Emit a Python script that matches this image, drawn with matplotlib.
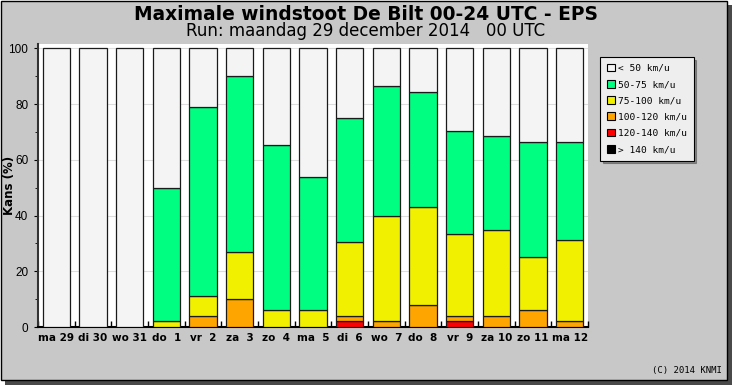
import numpy as np
import matplotlib
matplotlib.use('Agg')
import matplotlib.pyplot as plt
from matplotlib.patches import Rectangle

# -- data (percent of ensemble members per wind gust class)
days = ['ma 29', 'di 30', 'wo 31', 'do  1', 'vr  2', 'za  3', 'zo  4', 'ma  5',
        'di  6', 'wo  7', 'do  8', 'vr  9', 'za 10', 'zo 11', 'ma 12']
gt140 = [0, 0, 0, 0, 0, 0, 0, 0, 0, 0, 0, 0, 0, 0, 0]
p120_140 = [0, 0, 0, 0, 0, 0, 0, 0, 2, 0, 0, 2, 0, 0, 0]
p100_120 = [0, 0, 0, 0, 4, 10, 0, 0, 2, 2, 8, 2, 4, 6, 2]
p75_100 = [0, 0, 0, 2, 7, 17, 6, 6, 26.5, 38, 35, 29.3, 31, 19.3, 29.2]
p50_75 = [0, 0, 0, 48, 68, 63, 59.5, 48, 44.5, 46.4, 41.3, 37.2, 33.5, 41, 35.1]
lt50 = [100, 100, 100, 50, 21, 10, 34.5, 46, 25, 13.6, 15.7, 29.5, 31.5, 33.7, 33.7]

classes = ['> 140 km/u', '120-140 km/u', '100-120 km/u', '75-100 km/u', '50-75 km/u', '< 50 km/u']
series = [gt140, p120_140, p100_120, p75_100, p50_75, lt50]
colors = ['#000000', '#ff0000', '#ffa500', '#f0f000', '#00ff80', '#f4f4f4']

W, H = 732, 385
fig = plt.figure(figsize=(W / 100, H / 100), dpi=100)
fig.patch.set_facecolor('white')

#-frame with shadow
fig.add_artist(Rectangle((5 / W, 0), 727 / W, 380 / H, transform=fig.transFigure,
                         facecolor='#4a4a4a', edgecolor='none', zorder=-10))
fig.add_artist(Rectangle((0.5 / W, 5 / H), 726 / W, 379.5 / H, transform=fig.transFigure,
                         facecolor='#c8c8c8', edgecolor='black', lw=1, zorder=-9))

ax = fig.add_axes([38 / W, (H - 327) / H, 550 / W, 283 / H])
ax.set_facecolor('white')

x = np.arange(len(days))
bottom = np.zeros(len(days))
for vals, col in zip(series, colors):
    vals = np.array(vals, dtype=float)
    ax.bar(x, vals, width=0.74, bottom=bottom, color=col, edgecolor='#1a1a1a',
           linewidth=0.9, zorder=3)
    bottom += vals

ax.set_xlim(-0.5, len(days) - 0.5)
ax.set_ylim(0, 101.6)

ax.set_yticks(np.arange(0, 101, 20))
ax.set_yticks(np.arange(10, 100, 20), minor=True)
ax.grid(axis='y', color='#dddddd', lw=0.8, zorder=0)
ax.tick_params(axis='y', which='major', direction='out', length=3, pad=4)
ax.tick_params(axis='y', which='minor', direction='out', length=2)
for lab in ax.get_yticklabels():
    lab.set_family('Liberation Sans')
    lab.set_fontsize(8.5)

ax.set_xticks(x)
ax.set_xticklabels(days, fontweight='bold', fontsize=7.5)
ax.set_xticks(np.arange(-0.5, len(days), 1), minor=True)
ax.tick_params(axis='x', which='major', length=0, pad=4)
ax.tick_params(axis='x', which='minor', direction='in', length=4, width=1)

for s in ['top', 'right']:
    ax.spines[s].set_visible(False)
ax.spines['left'].set_color('#333333')
ax.spines['left'].set_linewidth(1.5)
ax.spines['bottom'].set_linewidth(1.5)

ax.set_ylabel('Kans (%)', fontweight='bold', fontsize=8.5)
ax.yaxis.set_label_coords(-22 / 550, 0.5)

#-titles
fig.text(0.5, 1 - 14 / H, 'Maximale windstoot De Bilt 00-24 UTC - EPS',
         ha='center', va='center', fontsize=13.4, fontweight='bold')
fig.text(0.5, 1 - 31 / H, 'Run: maandag 29 december 2014   00 UTC',
         ha='center', va='center', fontsize=12)

#-legend
handles = [Rectangle((0, 0), 1, 1, facecolor=c, edgecolor='black', lw=0.8)
           for c in colors[::-1]]
leg = fig.legend(handles, classes[::-1], loc='upper left',
                 bbox_to_anchor=(600 / W, 1 - 57 / H), prop={'family': 'DejaVu Sans Mono', 'size': 6.8},
                 handlelength=0.9, handleheight=0.9, handletextpad=0.3, labelspacing=0.75,
                 borderpad=0.7, borderaxespad=0, fancybox=False, shadow=True, framealpha=1,
                 facecolor='#eeeeee', edgecolor='black')
leg.get_frame().set_linewidth(0.8)

fig.text(722 / W, 1 - 371 / H, '(C) 2014 KNMI', ha='right', va='center',
         family='DejaVu Sans Mono', fontsize=6.5)

plt.savefig('out.png', dpi=100)
